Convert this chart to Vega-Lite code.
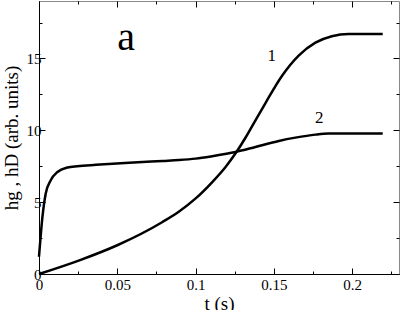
{
  "$schema": "https://vega.github.io/schema/vega-lite/v6.json",
  "width": 360,
  "height": 273,
  "autosize": "none",
  "padding": {"left": 39, "top": 1, "right": 3, "bottom": 36},
  "background": "white",
  "config": {
    "view": {"stroke": "#888888", "strokeWidth": 1},
    "axis": {
      "grid": false,
      "domainColor": "black",
      "tickColor": "black",
      "labelFont": "Liberation Serif, Times New Roman, DejaVu Serif, serif",
      "labelFontSize": 15,
      "labelColor": "black",
      "titleFont": "Liberation Serif, Times New Roman, DejaVu Serif, serif",
      "titleFontSize": 19,
      "titleFontWeight": "normal",
      "titleColor": "black",
      "labelOverlap": false,
      "labelFlush": false
    }
  },
  "data": {
    "values": [
      {"series": "1", "t": 0, "v": 0},
      {"series": "1", "t": 0.0258, "v": 0.95},
      {"series": "1", "t": 0.05, "v": 2.0},
      {"series": "1", "t": 0.0789, "v": 3.62},
      {"series": "1", "t": 0.0895, "v": 4.35},
      {"series": "1", "t": 0.1001, "v": 5.26},
      {"series": "1", "t": 0.1107, "v": 6.4},
      {"series": "1", "t": 0.1192, "v": 7.45},
      {"series": "1", "t": 0.1256, "v": 8.4},
      {"series": "1", "t": 0.132, "v": 9.5},
      {"series": "1", "t": 0.1383, "v": 10.7},
      {"series": "1", "t": 0.1447, "v": 11.9},
      {"series": "1", "t": 0.1553, "v": 13.8},
      {"series": "1", "t": 0.1659, "v": 15.2},
      {"series": "1", "t": 0.1766, "v": 16.1},
      {"series": "1", "t": 0.1871, "v": 16.55},
      {"series": "1", "t": 0.1978, "v": 16.7},
      {"series": "1", "t": 0.2196, "v": 16.7},
      {"series": "2", "t": 0, "v": 1.2},
      {"series": "2", "t": 0.0022, "v": 3.98},
      {"series": "2", "t": 0.0043, "v": 5.6},
      {"series": "2", "t": 0.0075, "v": 6.53},
      {"series": "2", "t": 0.0118, "v": 7.1},
      {"series": "2", "t": 0.0182, "v": 7.41},
      {"series": "2", "t": 0.0245, "v": 7.5},
      {"series": "2", "t": 0.0364, "v": 7.6},
      {"series": "2", "t": 0.0576, "v": 7.75},
      {"series": "2", "t": 0.0789, "v": 7.87},
      {"series": "2", "t": 0.0895, "v": 7.93},
      {"series": "2", "t": 0.1001, "v": 8.03},
      {"series": "2", "t": 0.1107, "v": 8.2},
      {"series": "2", "t": 0.1256, "v": 8.49},
      {"series": "2", "t": 0.1383, "v": 8.84},
      {"series": "2", "t": 0.1532, "v": 9.26},
      {"series": "2", "t": 0.1638, "v": 9.49},
      {"series": "2", "t": 0.1766, "v": 9.7},
      {"series": "2", "t": 0.185, "v": 9.77},
      {"series": "2", "t": 0.2196, "v": 9.77}
    ]
  },
  "layer": [
    {
      "mark": {"type": "line", "interpolate": "monotone", "color": "black", "strokeWidth": 2.5},
      "encoding": {
        "x": {"field": "t", "type": "quantitative", "scale": {"domain": [0, 0.23], "nice": false, "zero": false},
          "axis": {"orient": "bottom", "title": "t (s)", "values": [0, 0.05, 0.1, 0.15, 0.2], "format": "~g", "tickSize": -6, "labelPadding": 9, "titlePadding": 2}},
        "y": {"field": "v", "type": "quantitative", "scale": {"domain": [0, 19], "nice": false, "zero": false},
          "axis": {"orient": "left", "title": "hg , hD (arb. units)", "values": [0, 5, 10, 15], "tickSize": -6, "labelPadding": 4, "titlePadding": 5}},
        "detail": {"field": "series", "type": "nominal"}
      }
    },
    {
      "mark": {"type": "point", "opacity": 0},
      "encoding": {
        "x": {"field": "t", "type": "quantitative", "scale": {"domain": [0, 0.23], "nice": false, "zero": false},
          "axis": {"orient": "bottom", "title": null, "labels": false, "domain": false, "values": [0.025, 0.075, 0.125, 0.175, 0.225], "tickSize": -3}},
        "y": {"field": "v", "type": "quantitative", "scale": {"domain": [0, 19], "nice": false, "zero": false},
          "axis": {"orient": "left", "title": null, "labels": false, "domain": false, "values": [2.5, 7.5, 12.5, 17.5], "tickSize": -3}}
      }
    },
    {
      "mark": {"type": "point", "opacity": 0},
      "encoding": {
        "x": {"field": "t", "type": "quantitative", "scale": {"domain": [0, 0.23], "nice": false, "zero": false},
          "axis": {"orient": "top", "title": null, "labels": false, "domain": false, "values": [0, 0.05, 0.1, 0.15, 0.2], "tickSize": -6}},
        "y": {"field": "v", "type": "quantitative", "scale": {"domain": [0, 19], "nice": false, "zero": false},
          "axis": {"orient": "right", "title": null, "labels": false, "domain": false, "values": [0, 5, 10, 15], "tickSize": -6}}
      }
    },
    {
      "mark": {"type": "point", "opacity": 0},
      "encoding": {
        "x": {"field": "t", "type": "quantitative", "scale": {"domain": [0, 0.23], "nice": false, "zero": false},
          "axis": {"orient": "top", "title": null, "labels": false, "domain": false, "values": [0.025, 0.075, 0.125, 0.175, 0.225], "tickSize": -3}},
        "y": {"field": "v", "type": "quantitative", "scale": {"domain": [0, 19], "nice": false, "zero": false},
          "axis": {"orient": "right", "title": null, "labels": false, "domain": false, "values": [2.5, 7.5, 12.5, 17.5], "tickSize": -3}}
      }
    },
    {
      "data": {"values": [{"label": "a", "t": 0.0557, "v": 16.4}]},
      "mark": {"type": "text", "font": "Liberation Serif, Times New Roman, DejaVu Serif, serif", "fontSize": 40, "baseline": "middle", "align": "center", "color": "black"},
      "encoding": {
        "x": {"field": "t", "type": "quantitative", "axis": null},
        "y": {"field": "v", "type": "quantitative", "axis": null},
        "text": {"field": "label"}
      }
    },
    {
      "data": {"values": [{"label": "1", "t": 0.1487, "v": 15.2}, {"label": "2", "t": 0.179, "v": 10.88}]},
      "mark": {"type": "text", "font": "Liberation Serif, Times New Roman, DejaVu Serif, serif", "fontSize": 17, "baseline": "middle", "align": "center", "color": "black"},
      "encoding": {
        "x": {"field": "t", "type": "quantitative", "axis": null},
        "y": {"field": "v", "type": "quantitative", "axis": null},
        "text": {"field": "label"}
      }
    }
  ],
  "resolve": {"axis": {"x": "independent", "y": "independent"}}
}
